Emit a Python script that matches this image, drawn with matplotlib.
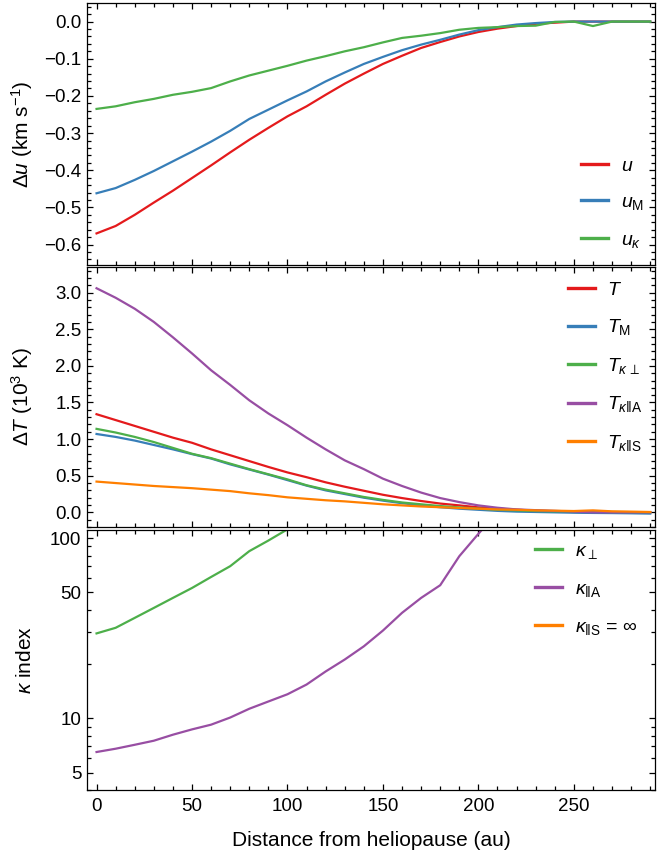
import numpy as np
import matplotlib
matplotlib.use("Agg")
import matplotlib.pyplot as plt
from matplotlib.ticker import MultipleLocator, FixedLocator, FixedFormatter, NullFormatter

plt.rcParams['font.family'] = ['Liberation Sans', 'DejaVu Sans']
plt.rcParams['mathtext.fontset'] = 'custom'
plt.rcParams['mathtext.rm'] = 'Liberation Sans'
plt.rcParams['mathtext.it'] = 'Liberation Sans:italic'
plt.rcParams['mathtext.bf'] = 'Liberation Sans:bold'
plt.rcParams['mathtext.sf'] = 'Liberation Sans'

# ---------------- data ----------------
dist = [0, 10, 20, 30, 40, 50, 60, 70, 80, 90, 100, 110, 120, 130, 140,
        150, 160, 170, 180, 190, 200, 210, 220, 230, 240, 250, 260, 270, 280, 290]

du_u = [-0.570, -0.550, -0.520, -0.487, -0.455, -0.421, -0.387, -0.352, -0.318, -0.286,
        -0.255, -0.228, -0.197, -0.167, -0.140, -0.114, -0.092, -0.071, -0.055, -0.040,
        -0.028, -0.019, -0.012, -0.006, -0.003, 0.0, 0.0, 0.0, 0.0, 0.0]
du_uM = [-0.462, -0.448, -0.426, -0.402, -0.376, -0.350, -0.323, -0.294, -0.262, -0.237,
         -0.212, -0.188, -0.161, -0.137, -0.114, -0.095, -0.077, -0.062, -0.049, -0.035,
         -0.023, -0.015, -0.008, -0.004, -0.001, 0.0, 0.0, 0.0, 0.0, 0.0]
du_uk = [-0.235, -0.228, -0.217, -0.208, -0.197, -0.189, -0.179, -0.161, -0.145, -0.132,
         -0.119, -0.105, -0.093, -0.080, -0.069, -0.056, -0.044, -0.038, -0.031, -0.022,
         -0.017, -0.015, -0.012, -0.011, -0.001, 0.0, -0.012, 0.0, 0.0, 0.0]

dT_T = [1.34, 1.26, 1.18, 1.10, 1.02, 0.95, 0.86, 0.78, 0.70, 0.62,
        0.545, 0.48, 0.41, 0.35, 0.295, 0.24, 0.195, 0.155, 0.12, 0.095,
        0.068, 0.05, 0.036, 0.023, 0.014, 0.005, 0.0, 0.0, 0.0, 0.0]
dT_TM = [1.07, 1.03, 0.98, 0.92, 0.86, 0.795, 0.735, 0.655, 0.585, 0.515,
         0.44, 0.365, 0.30, 0.25, 0.20, 0.16, 0.125, 0.095, 0.07, 0.05,
         0.035, 0.02, 0.01, 0.005, 0.0, -0.005, -0.008, -0.01, -0.013, -0.017]
dT_Tkperp = [1.14, 1.09, 1.03, 0.96, 0.88, 0.80, 0.74, 0.665, 0.59, 0.52,
             0.45, 0.37, 0.31, 0.26, 0.21, 0.17, 0.135, 0.11, 0.086, 0.068,
             0.05, 0.036, 0.027, 0.018, 0.014, 0.01, 0.008, 0.005, 0.003, 0.0]
dT_TkparA = [3.06, 2.93, 2.78, 2.60, 2.39, 2.17, 1.94, 1.74, 1.53, 1.35,
             1.19, 1.02, 0.86, 0.71, 0.59, 0.46, 0.36, 0.27, 0.195, 0.14,
             0.095, 0.063, 0.04, 0.03, 0.02, 0.01, 0.0, 0.0, 0.0, 0.0]
dT_TkparS = [0.42, 0.40, 0.38, 0.36, 0.345, 0.33, 0.31, 0.29, 0.26, 0.235,
             0.205, 0.185, 0.165, 0.15, 0.13, 0.11, 0.095, 0.08, 0.07, 0.06,
             0.05, 0.04, 0.035, 0.027, 0.023, 0.018, 0.027, 0.014, 0.01, 0.005]

dist_kperp = [0, 10, 20, 30, 40, 50, 60, 70, 80, 90, 100, 110]
kappa_perp = [29.6, 31.8, 36.1, 41.0, 46.6, 52.9, 60.9, 69.9, 84.7, 97.0, 112.0, 135.0]
dist_kparA = [0, 10, 20, 30, 40, 50, 60, 70, 80, 90, 100, 110, 120, 130, 140,
              150, 160, 170, 180, 190, 200, 210]
kappa_parA = [6.5, 6.78, 7.13, 7.51, 8.11, 8.68, 9.22, 10.1, 11.3, 12.4, 13.6,
              15.4, 18.2, 21.2, 25.1, 30.7, 38.5, 46.6, 54.8, 79.4, 105.7, 140.0]

kappa_ticks = [5, 10, 50, 100]
kappa_minor = [4, 6, 7, 8, 9, 20, 30, 40, 60, 70, 80, 90]

RED = '#E41A1C'
BLUE = '#377EB8'
GREEN = '#4DAF4A'
PURPLE = '#984EA3'
ORANGE = '#FF7F00'

# ---------------- figure ----------------
W, H = 657, 857
fig = plt.figure(figsize=(W / 100, H / 100), dpi=100)

def axrect(l, t, r, b):
    return [l / W, 1 - b / H, (r - l) / W, (b - t) / H]

ax1 = fig.add_axes(axrect(87, 3, 655, 265))
ax2 = fig.add_axes(axrect(87, 267, 655, 527))
ax3 = fig.add_axes(axrect(87, 530, 655, 790))

lw = 1.6
FS = 13.5     # tick labels
LFS = 15      # axis labels
GFS = 14      # legend

for ax in (ax1, ax2, ax3):
    ax.set_xlim(-5, 292.5)
    ax.xaxis.set_major_locator(MultipleLocator(50))
    ax.xaxis.set_minor_locator(MultipleLocator(10))
    ax.tick_params(which='both', direction='in', top=True, right=True,
                   width=0.9, labelsize=FS, color='black')
    ax.tick_params(which='major', length=4.5)
    ax.tick_params(which='minor', length=2.6)
    ax.tick_params(axis='y', pad=4)
    ax.tick_params(axis='x', pad=6)
    for s in ax.spines.values():
        s.set_linewidth(0.9)

ax1.tick_params(labelbottom=False)
ax2.tick_params(labelbottom=False)

leg_kw = dict(loc='center left', frameon=False, fontsize=GFS, handlelength=1.4,
              handletextpad=0.65, borderpad=0, borderaxespad=0)

def thicken(leg):
    for h in leg.get_lines():
        h.set_linewidth(2.4)

# top panel
ax1.plot(dist, du_u, color=RED, lw=lw, label=r'$u$')
ax1.plot(dist, du_uM, color=BLUE, lw=lw, label=r'$u_\mathrm{M}$')
ax1.plot(dist, du_uk, color=GREEN, lw=lw, label=r'$u_\kappa$')
ax1.set_ylim(-0.655, 0.05)
ax1.yaxis.set_major_locator(MultipleLocator(0.1))
ax1.yaxis.set_minor_locator(MultipleLocator(0.02))
ax1.yaxis.set_major_formatter(plt.FuncFormatter(
    lambda v, p: f'{v:.1f}'.replace('-', '\u2212') if abs(v) > 1e-9 else '0.0'))
ax1.set_ylabel(r'$\Delta u$ (km s$^{-1}$)', fontsize=LFS)
thicken(ax1.legend(bbox_to_anchor=(0.870, 0.235), labelspacing=0.97, **leg_kw))

# middle panel
ax2.plot(dist, dT_T, color=RED, lw=lw, label=r'$T$')
ax2.plot(dist, dT_TM, color=BLUE, lw=lw, label=r'$T_\mathrm{M}$')
ax2.plot(dist, dT_Tkperp, color=GREEN, lw=lw, label=r'$T_{\kappa\,\perp}$')
ax2.plot(dist, dT_TkparA, color=PURPLE, lw=lw, label=r'$T_{\kappa\Vert\mathrm{A}}$')
ax2.plot(dist, dT_TkparS, color=ORANGE, lw=lw, label=r'$T_{\kappa\Vert\mathrm{S}}$')
ax2.set_ylim(-0.2, 3.35)
ax2.yaxis.set_major_locator(MultipleLocator(0.5))
ax2.yaxis.set_minor_locator(MultipleLocator(0.1))
ax2.yaxis.set_major_formatter(plt.FuncFormatter(lambda v, p: f'{v:.1f}'))
ax2.set_ylabel(r'$\Delta T$ (10$^{3}$ K)', fontsize=LFS)
thicken(ax2.legend(bbox_to_anchor=(0.846, 0.615), labelspacing=0.95, **leg_kw))

# bottom panel
ax3.plot(dist_kperp, kappa_perp, color=GREEN, lw=lw, label=r'$\kappa_\perp$')
ax3.plot(dist_kparA, kappa_parA, color=PURPLE, lw=lw, label=r'$\kappa_{\Vert\mathrm{A}}$')
ax3.plot([], [], color=ORANGE, lw=lw, label=r'$\kappa_{\Vert\mathrm{S}}$ = $\infty$')
ax3.set_yscale('log')
ax3.set_ylim(4.0, 111)
ax3.yaxis.set_major_locator(FixedLocator(kappa_ticks))
ax3.yaxis.set_major_formatter(FixedFormatter([str(t) for t in kappa_ticks]))
ax3.yaxis.set_minor_locator(FixedLocator(kappa_minor))
ax3.yaxis.set_minor_formatter(NullFormatter())
ax3.set_ylabel(r'$\kappa$ index', fontsize=LFS)
ax3.set_xlabel('Distance from heliopause (au)', fontsize=LFS, labelpad=11)
thicken(ax3.legend(bbox_to_anchor=(0.789, 0.77), labelspacing=1.0, **leg_kw))

for ax in (ax1, ax2, ax3):
    ax.yaxis.set_label_coords(-0.092, 0.5)

fig.savefig('out.png', dpi=100)
